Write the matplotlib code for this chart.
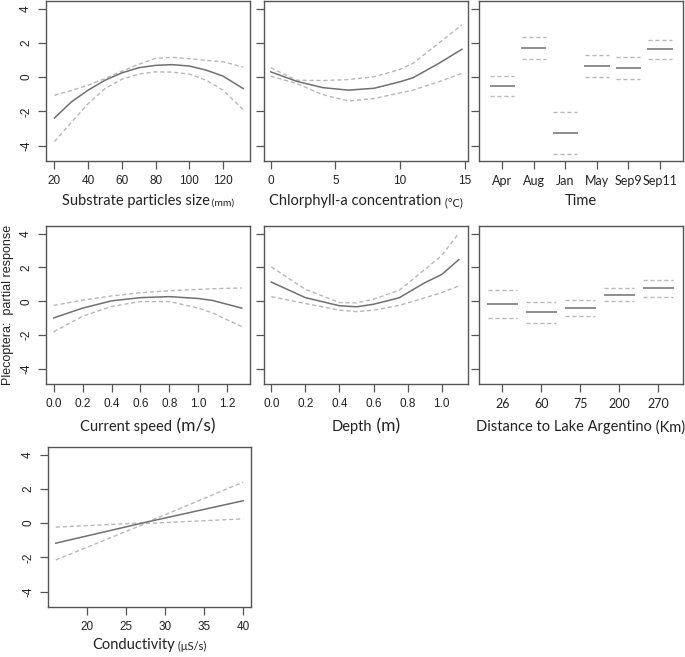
import numpy as np
import matplotlib.pyplot as plt

# partial response curves (fit, upper, lower)
sub_x = [20, 30, 40, 50, 60, 70, 80, 90, 100, 110, 120, 132]
sub_fit = [-2.39, -1.45, -0.76, -0.18, 0.25, 0.55, 0.69, 0.73, 0.65, 0.41, 0.06, -0.67]
sub_up = [-1.06, -0.78, -0.47, -0.08, 0.35, 0.75, 1.10, 1.16, 1.08, 0.98, 0.90, 0.59]
sub_lo = [-3.76, -2.65, -1.55, -0.67, -0.12, 0.18, 0.31, 0.29, 0.18, -0.18, -0.76, -1.90]

chl_x = [0, 2, 4, 6, 8, 10, 11, 13, 14.8]
chl_fit = [0.31, -0.24, -0.61, -0.76, -0.65, -0.27, -0.04, 0.80, 1.63]
chl_up = [0.55, -0.18, -0.20, -0.14, 0.02, 0.45, 0.80, 1.98, 3.06]
chl_lo = [0.06, -0.37, -1.02, -1.39, -1.25, -0.92, -0.76, -0.27, 0.22]

time_cats = ['Apr', 'Aug', 'Jan', 'May', 'Sep9', 'Sep11']
time_fit = [-0.53, 1.73, -3.27, 0.65, 0.53, 1.65]
time_up = [0.06, 2.37, -2.04, 1.31, 1.16, 2.18]
time_lo = [-1.12, 1.04, -4.49, -0.02, -0.12, 1.04]

cur_x = [0, 0.2, 0.4, 0.6, 0.8, 1.0, 1.1, 1.3]
cur_fit = [-0.99, -0.41, 0.02, 0.21, 0.27, 0.16, 0.04, -0.41]
cur_up = [-0.25, 0.06, 0.31, 0.50, 0.62, 0.70, 0.74, 0.78]
cur_lo = [-1.81, -0.89, -0.31, -0.02, -0.02, -0.41, -0.70, -1.50]

dep_x = [0, 0.2, 0.4, 0.5, 0.6, 0.75, 0.9, 1.0, 1.1]
dep_fit = [1.13, 0.21, -0.27, -0.33, -0.18, 0.20, 1.09, 1.58, 2.46]
dep_up = [2.03, 0.70, -0.08, -0.10, 0.12, 0.64, 1.87, 2.71, 4.02]
dep_lo = [0.27, -0.14, -0.53, -0.62, -0.53, -0.25, 0.20, 0.51, 0.90]

dist_cats = ['26', '60', '75', '200', '270']
dist_fit = [-0.18, -0.64, -0.41, 0.39, 0.76]
dist_up = [0.66, -0.02, 0.08, 0.78, 1.25]
dist_lo = [-0.97, -1.27, -0.86, 0.00, 0.25]

con_x = [16, 27.5, 40]
con_fit = [-1.17, 0.05, 1.31]
con_up = [-0.23, 0.02, 2.40]
con_lo = [-2.15, -0.02, 0.25]

W, H = 685, 657
fig = plt.figure(figsize=(W / 100, H / 100), dpi=100)
renderer = fig.canvas.get_renderer()

dark = '#707070'
light = '#b8b8b8'
frame = '#555555'
tickfont = 'Liberation Sans'
labfont = ['Lato', 'DejaVu Sans']
ylim = (-4.9, 4.45)


def make_ax(l, t, r, b):
    ax = fig.add_axes([l / W, 1 - b / H, (r - l) / W, (b - t) / H])
    for s in ax.spines.values():
        s.set_color(frame)
        s.set_linewidth(1.0)
    ax.set_ylim(*ylim)
    ax.set_yticks([-4, -2, 0, 2, 4])
    ax.tick_params(length=6, width=0.9, color=frame, labelsize=8.5, pad=4,
                   labelcolor='#222222')
    for lab in ax.get_xticklabels() + ax.get_yticklabels():
        lab.set_fontfamily(tickfont)
    return ax


def curve(ax, x, fit, up, lo):
    ax.plot(x, up, color=light, lw=1.0, ls=(0, (3, 2)))
    ax.plot(x, lo, color=light, lw=1.0, ls=(0, (3, 2)))
    ax.plot(x, fit, color=dark, lw=1.1)


def factor(ax, fit, up, lo):
    pos = np.arange(1, len(fit) + 1)
    ax.hlines(up, pos - 0.38, pos + 0.38, color=light, lw=1.0, ls=(0, (3, 2)))
    ax.hlines(lo, pos - 0.38, pos + 0.38, color=light, lw=1.0, ls=(0, (3, 2)))
    ax.hlines(fit, pos - 0.4, pos + 0.4, color=dark, lw=1.1)


def xlab(ax, main, unit, usize, y):
    # main text plus a unit in its own size, centred together under the axes
    t = ax.text(0.5, y, main, transform=ax.transAxes, ha='left', va='baseline',
                fontsize=10.5, family=labfont, color='#222222')
    u = None
    if unit:
        u = ax.annotate(' ' + unit, xy=(1, 0), xycoords=t, va='bottom', ha='left',
                        fontsize=usize, family=labfont, color='#222222')
    wt = t.get_window_extent(renderer).width
    wu = u.get_window_extent(renderer).width if u else 0
    axw = ax.get_window_extent(renderer).width
    t.set_x(0.5 - (wt + wu) / 2 / axw)


def ylabels(ax, show):
    if show:
        ax.set_yticklabels(['-4', '-2', '0', '2', '4'], rotation=90, va='center',
                           fontfamily=tickfont)
    else:
        ax.set_yticklabels([])


cols = [(46, 250), (264, 468), (479, 683)]
rows = [(1, 161), (226, 384), (447, 607)]
ylab_pos = [-0.275, -0.30, -0.265]

# row 1
ax = make_ax(cols[0][0], rows[0][0], cols[0][1], rows[0][1])
curve(ax, sub_x, sub_fit, sub_up, sub_lo)
ax.set_xlim(15, 136)
ax.set_xticks([20, 40, 60, 80, 100, 120])
ylabels(ax, True)
xlab(ax, 'Substrate particles size', '(mm)', 7.5, ylab_pos[0])

ax = make_ax(cols[1][0], rows[0][0], cols[1][1], rows[0][1])
curve(ax, chl_x, chl_fit, chl_up, chl_lo)
ax.set_xlim(-0.52, 15.27)
ax.set_xticks([0, 5, 10, 15])
ylabels(ax, False)
xlab(ax, 'Chlorphyll-a concentration', '(\u00b0C)', 8, ylab_pos[0])

ax = make_ax(cols[2][0], rows[0][0], cols[2][1], rows[0][1])
factor(ax, time_fit, time_up, time_lo)
ax.set_xlim(0.26, 6.73)
ax.set_xticks(range(1, len(time_cats) + 1))
ax.set_xticklabels(time_cats, fontfamily=labfont, fontsize=9)
ylabels(ax, False)
xlab(ax, 'Time', None, 8, ylab_pos[0])

# row 2
ax = make_ax(cols[0][0], rows[1][0], cols[0][1], rows[1][1])
curve(ax, cur_x, cur_fit, cur_up, cur_lo)
ax.set_xlim(-0.053, 1.357)
ax.set_xticks([0, 0.2, 0.4, 0.6, 0.8, 1.0, 1.2])
ax.set_xticklabels(['0.0', '0.2', '0.4', '0.6', '0.8', '1.0', '1.2'], fontfamily=tickfont)
ylabels(ax, True)
xlab(ax, 'Current speed', '(m/s)', 12.5, ylab_pos[1])

ax = make_ax(cols[1][0], rows[1][0], cols[1][1], rows[1][1])
curve(ax, dep_x, dep_fit, dep_up, dep_lo)
ax.set_xlim(-0.043, 1.154)
ax.set_xticks([0, 0.2, 0.4, 0.6, 0.8, 1.0])
ax.set_xticklabels(['0.0', '0.2', '0.4', '0.6', '0.8', '1.0'], fontfamily=tickfont)
ylabels(ax, False)
xlab(ax, 'Depth', '(m)', 12.5, ylab_pos[1])

ax = make_ax(cols[2][0], rows[1][0], cols[2][1], rows[1][1])
factor(ax, dist_fit, dist_up, dist_lo)
ax.set_xlim(0.4, 5.64)
ax.set_xticks(range(1, len(dist_cats) + 1))
ax.set_xticklabels(dist_cats, fontfamily=labfont, fontsize=9)
ylabels(ax, False)
xlab(ax, 'Distance to Lake Argentino', '(Km)', 10.5, ylab_pos[1])

# row 3
ax = make_ax(48, rows[2][0], 251, rows[2][1])
curve(ax, con_x, con_fit, con_up, con_lo)
ax.set_xlim(15, 41)
ax.set_xticks([20, 25, 30, 35, 40])
ylabels(ax, True)
xlab(ax, 'Conductivity', '(\u03bcS/s)', 8, ylab_pos[2])

fig.text(8 / W, 1 - 305 / H, 'Plecoptera:  partial response', rotation=90,
         ha='center', va='center', fontsize=9, family=tickfont, color='#222222')

fig.savefig('out.png', dpi=100)
